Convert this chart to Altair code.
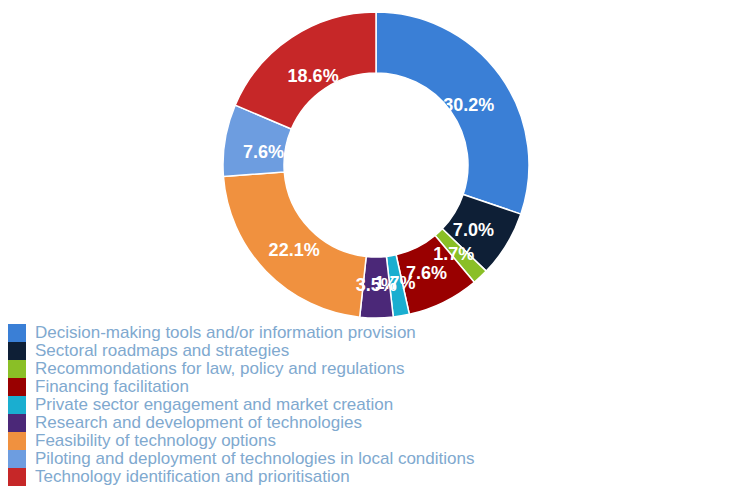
import altair as alt
import pandas as pd

categories = [
    "Decision-making tools and/or information provision",
    "Sectoral roadmaps and strategies",
    "Recommondations for law, policy and regulations",
    "Financing facilitation",
    "Private sector engagement and market creation",
    "Research and development of technologies",
    "Feasibility of technology options",
    "Piloting and deployment of technologies in local conditions",
    "Technology identification and prioritisation",
]
values = [30.2, 7.0, 1.7, 7.6, 1.7, 3.5, 22.1, 7.6, 18.6]
colors = ["#3a7fd6", "#0e1f36", "#8abf26", "#990000", "#1aaed0",
          "#4b2878", "#f0913f", "#6d9de0", "#c62728"]

df = pd.DataFrame({
    "category": categories,
    "value": values,
    "idx": list(range(len(categories))),
    "label": [f"{v:.1f}%" for v in values],
})

color_scale = alt.Scale(domain=categories, range=colors)

base = alt.Chart(df).encode(
    theta=alt.Theta("value:Q", stack=True),
    order=alt.Order("idx:Q", sort="ascending"),
)

arcs = base.mark_arc(outerRadius=153, innerRadius=92, stroke="white", strokeWidth=1.5).encode(
    color=alt.Color(
        "category:N",
        scale=color_scale,
        sort=categories,
        legend=alt.Legend(
            title=None,
            orient="none",
            legendX=0,
            legendY=316,
            direction="vertical",
            symbolType="square",
            symbolSize=324,
            symbolStrokeWidth=0,
            symbolOpacity=1,
            labelFontSize=17,
            labelFont="Liberation Sans",
            labelColor="#80a9cf",
            labelLimit=0,
            labelOffset=9,
            rowPadding=0,
        ),
    )
)

labels = base.mark_text(
    radius=114, dy=7, fontSize=18, fontWeight="bold", color="white", font="Liberation Sans"
).encode(
    text="label:N",
    detail="category:N",
)

chart = alt.layer(arcs, labels).properties(
    width=736,
    height=314,
    autosize=alt.AutoSizeParams(type="none"),
    padding={"left": 0, "top": 0, "right": 0, "bottom": 165},
).configure_view(stroke=None)

chart.save("out.html", embed_options={"renderer": "svg", "actions": False})
